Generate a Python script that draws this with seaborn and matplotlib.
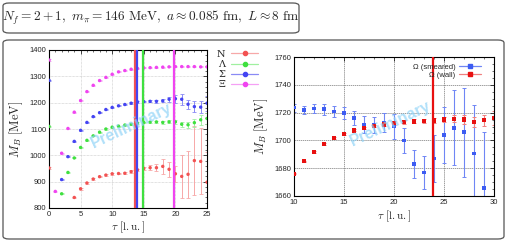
import numpy as np
import pandas as pd
import matplotlib
matplotlib.use("Agg")
import matplotlib.pyplot as plt
import seaborn as sns
from matplotlib.patches import FancyBboxPatch
from matplotlib.lines import Line2D
from matplotlib.ticker import MultipleLocator

nan = np.nan

# ---------------- data: left panel ----------------
tau_left = list(range(26))
N_mass = [952, nan, nan, nan, 840, 873, 895, 910, 919, 925, 930, 931, 932, 938, 945,
          950, 953, 953, 958, 947, 930, 920, 928, 980, 977, 898]
N_err = [3, nan, nan, nan, 3, 3, 3, 3, 3, 3, 3, 3, 4, 5, 5, 6, 10, 14, 28, 28, 30,
         82, 90, 130, 125, 115]
L_mass = [1110, nan, 854, 935, 990, 1030, 1057, 1074, 1088, 1100, 1107, 1111, 1115,
          1118, 1122, 1125, 1126, 1127, 1125, 1127, 1127, 1118, 1116, 1124, 1135, 1140]
L_err = [2, nan, 2, 2, 2, 2, 2, 2, 2, 2, 2, 2, 2, 3, 3, 3, 4, 5, 5, 6, 8, 10, 12, 15,
         18, 22]
S_mass = [1285, nan, 908, 995, 1053, 1095, 1125, 1147, 1162, 1174, 1182, 1188, 1193,
          1198, 1203, 1204, 1205, 1205, 1207, 1213, 1215, 1213, 1194, 1185, 1183, 1198]
S_err = [2, nan, 2, 2, 2, 2, 2, 2, 2, 2, 2, 2, 2, 3, 3, 3, 4, 5, 6, 10, 15, 20, 17,
         20, 22, 28]
X_mass = [1362, 863, 1008, 1102, 1164, 1208, 1242, 1266, 1284, 1296, 1308, 1317, 1322,
          1327, 1330, 1332, 1333, 1334, 1335, 1336, 1337, 1337, 1337, 1337, 1336, 1336]
X_err = [2] * 26
baryons = ["N", "Λ", "Σ", "Ξ"]
left_colors = ["#f25252", "#3fe03f", "#4444f2", "#f044f0"]
left_err_colors = ["#f7a8a8", "#a0f0a0", "#8a8af5", "#f5a0f5"]
fit_start = [13.65, 14.85, 14.0, 19.85]

# ---------------- data: right panel ----------------
tau_right = list(range(10, 31))
omega_smeared = [1723.5, 1722, 1723, 1722.5, 1721, 1719.7, 1716, 1711.5, 1711, 1713,
                 1710, 1700, 1683, 1677, 1687, 1704, 1709, 1706, 1690.5, 1665.7, nan]
omega_smeared_err = [3, 3, 3, 4, 4, 4, 5, 6, 6, 7, 9, 9, 10, 12, 17, 20, 27, 32, 35,
                     40, nan]
omega_wall = [1676, 1685, 1691.7, 1697.4, 1701.7, 1704.8, 1707.2, 1709, 1710.4, 1711.5,
              1712.5, 1713.2, 1713.7, 1714, 1714.2, 1715, 1715.6, 1715, 1713.2, 1714.5,
              1716]
omega_wall_err = [0.5, 0.5, 0.5, 0.5, 0.5, 0.6, 0.7, 0.8, 1, 1.2, 1.3, 1.5, 1.5, 1.5,
                  1.8, 2, 2.5, 3, 3.5, 4, 5]
omega_labels = ["Ω (smeared)", "Ω (wall)"]
omega_fit_start = 23.9

# ---------------- figure ----------------
sns.set_theme(style="white")
plt.rcParams["font.family"] = ["Liberation Sans", "DejaVu Sans"]
plt.rcParams["mathtext.fontset"] = "cm"

W, H = 507, 242
fig = plt.figure(figsize=(W / 100, H / 100), dpi=100)
fig.patch.set_facecolor("white")


def fx(px):
    return px / W


def fy(py):
    return 1 - py / H


# rounded boxes
box1 = FancyBboxPatch((fx(3), fy(33)), fx(296), 30 / H,
                      boxstyle="round,pad=0,rounding_size=0.012",
                      transform=fig.transFigure, fc="none", ec="#555555", lw=0.9)
box2 = FancyBboxPatch((fx(3), fy(239)), fx(501), 199 / H,
                      boxstyle="round,pad=0,rounding_size=0.012",
                      transform=fig.transFigure, fc="none", ec="#555555", lw=0.9)
fig.patches.extend([box1, box2])
fig.text(fx(151), fy(18),
         r"$N_f = 2+1,\ m_\pi = 146\ \mathrm{MeV},\ a \approx 0.085\ \mathrm{fm},\ L \approx 8\ \mathrm{fm}$",
         ha="center", va="center", fontsize=9.6)


def style_axes(ax):
    ax.tick_params(which="both", direction="in", top=True, right=True,
                   labelsize=5.5, pad=2, color="black")
    ax.tick_params(which="major", length=3, width=0.5)
    ax.tick_params(which="minor", length=1.5, width=0.4)
    for s in ax.spines.values():
        s.set_color("black")
        s.set_linewidth(0.8)


# ---------------- left panel ----------------
axL = fig.add_axes([fx(49), fy(208), fx(207 - 49), (208 - 50) / H])
dfL = pd.DataFrame({
    "tau": tau_left * 4,
    "mass": N_mass + L_mass + S_mass + X_mass,
    "err": N_err + L_err + S_err + X_err,
    "baryon": sum([[b] * 26 for b in baryons], []),
})
for b, c in zip(baryons, left_err_colors):
    d = dfL[dfL.baryon == b]
    axL.errorbar(d.tau, d.mass, yerr=d.err, fmt="none", ecolor=c, elinewidth=0.7,
                 capsize=1.3, capthick=0.6, zorder=2)
sns.scatterplot(data=dfL, x="tau", y="mass", hue="baryon", palette=left_colors,
                hue_order=baryons, s=6, edgecolor="none", legend=False, ax=axL,
                zorder=3)
for xs, c in zip(fit_start, left_colors):
    axL.axvline(xs, color=c, lw=1.6, zorder=4)
axL.set_xlim(0, 25)
axL.set_ylim(800, 1400)
axL.xaxis.set_major_locator(MultipleLocator(5))
axL.xaxis.set_minor_locator(MultipleLocator(1))
axL.yaxis.set_major_locator(MultipleLocator(100))
axL.yaxis.set_minor_locator(MultipleLocator(20))
axL.grid(True, which="major", color="#c4c4c4", lw=0.5, ls=(0, (1, 1)))
style_axes(axL)
axL.set_xlabel(r"$\tau\ [\mathrm{l.u.}]$", fontsize=8, labelpad=1)
axL.set_ylabel(r"$M_B\ [\mathrm{MeV}]$", fontsize=9, labelpad=3)
axL.text(0.52, 0.52, "Preliminary", transform=axL.transAxes, rotation=25,
         ha="center", va="center", fontsize=11.5, fontweight="bold",
         color="#8fd3f7", alpha=0.7, zorder=5)

handlesL = []
for c, ec in zip(left_colors, left_err_colors):
    handlesL.append(Line2D([], [], color=ec, marker="o", ms=3, lw=0.9,
                           markerfacecolor=c, markeredgecolor=c))
fig.legend(handlesL, baryons, loc="upper left", bbox_to_anchor=(fx(212), fy(45)),
           markerfirst=False, frameon=False, handlelength=2.8,
           labelspacing=0.12, handletextpad=0.6, borderpad=0,
           prop={"family": ["DejaVu Serif"], "size": 7})

# ---------------- right panel ----------------
axR = fig.add_axes([fx(294), fy(196), fx(494 - 294), (196 - 57) / H])
dfR = pd.DataFrame({
    "tau": tau_right * 2,
    "mass": omega_smeared + omega_wall,
    "err": omega_smeared_err + omega_wall_err,
    "source": [omega_labels[0]] * 21 + [omega_labels[1]] * 21,
})
right_colors = ["#3d5cf2", "#e81010"]
right_err_colors = ["#6f86f5", "#f08080"]
for src, ec in zip(omega_labels, right_err_colors):
    d = dfR[dfR.source == src]
    axR.errorbar(d.tau, d.mass, yerr=d.err, fmt="none", ecolor=ec, elinewidth=0.8,
                 capsize=1.5, capthick=0.7, zorder=2)
sns.scatterplot(data=dfR, x="tau", y="mass", hue="source", palette=right_colors,
                hue_order=omega_labels, style="source", markers=["s", "s"],
                size="source", sizes={omega_labels[0]: 6, omega_labels[1]: 10},
                edgecolor="none", legend=False, ax=axR, zorder=3)
axR.axvline(omega_fit_start, color="#e81010", lw=1.6, zorder=4)
axR.set_xlim(10, 30)
axR.set_ylim(1660, 1760)
axR.xaxis.set_major_locator(MultipleLocator(5))
axR.xaxis.set_minor_locator(MultipleLocator(1))
axR.yaxis.set_major_locator(MultipleLocator(20))
axR.yaxis.set_minor_locator(MultipleLocator(5))
axR.grid(True, which="major", color="#777777", lw=0.5, ls=(0, (2, 1)))
style_axes(axR)
axR.set_xlabel(r"$\tau\ [\mathrm{l.u.}]$", fontsize=8, labelpad=2)
axR.set_ylabel(r"$M_B\ [\mathrm{MeV}]$", fontsize=9, labelpad=3)
axR.text(0.48, 0.52, "Preliminary", transform=axR.transAxes, rotation=25,
         ha="center", va="center", fontsize=11.5, fontweight="bold",
         color="#8fd3f7", alpha=0.7, zorder=5)
handlesR = []
for c, ec in zip(right_colors, right_err_colors):
    handlesR.append(Line2D([], [], color=ec, marker="s", ms=2.2, lw=0.9,
                           markerfacecolor=c, markeredgecolor=c))
axR.legend(handlesR, omega_labels, loc="upper right", bbox_to_anchor=(0.96, 0.985),
           markerfirst=False, frameon=False, fontsize=5.5, handlelength=2.9,
           labelspacing=0.05, handletextpad=0.5, borderpad=0.1)

fig.savefig("out.png", dpi=100, facecolor="white")
